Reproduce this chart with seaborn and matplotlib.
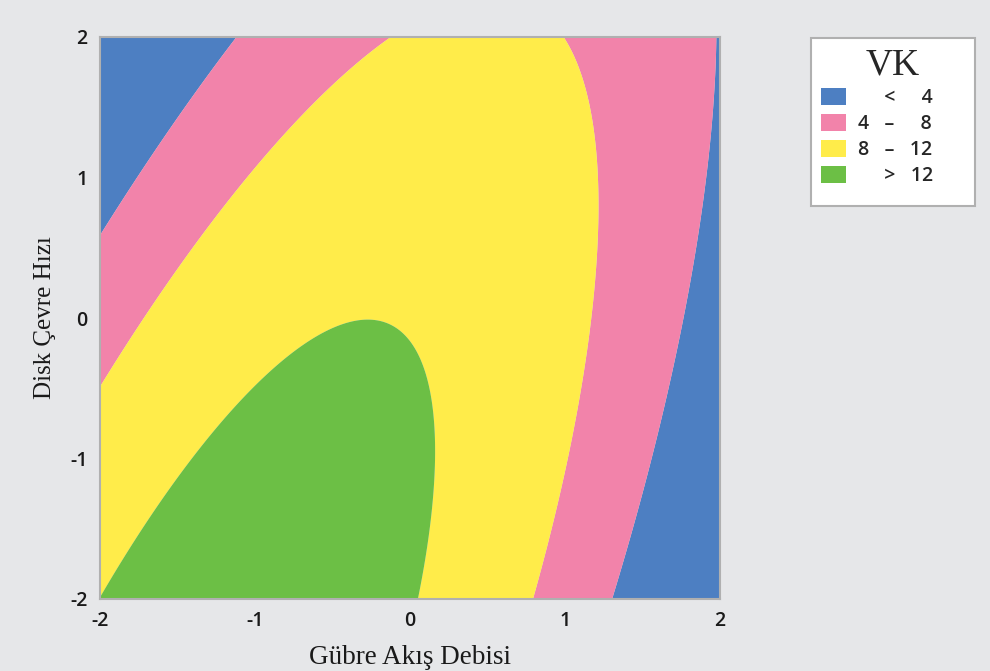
import numpy as np
import pandas as pd
import matplotlib
matplotlib.use("Agg")
import matplotlib.pyplot as plt
import seaborn as sns
from matplotlib.patches import Patch, Rectangle

# ---- data (contour boundary points) ----
levels = [4, 8, 12]
FS = "\u2007"  # figure space (digit width) for column alignment
GAP = "   "
TAIL = FS * 3
legend_labels = [f"{FS}{GAP}<{GAP}{FS}4{TAIL}", f"4{GAP}–{GAP}{FS}8{TAIL}",
                 f"8{GAP}–{GAP}12{TAIL}", f"{FS}{GAP}>{GAP}12{TAIL}"]
band_colors = ["#4D7FC2", "#F283AA", "#FFEC4A", "#6CBF45"]
ticks = [-2, -1, 0, 1, 2]

b12_x = [-1.994, -1.819, -1.516, -1.142, -0.852, -0.568, -0.368, -0.206, -0.052,
         0.065, 0.116, 0.142, 0.142, 0.110, 0.045]
b12_y = [-1.993, -1.636, -1.137, -0.660, -0.317, -0.111, -0.011, -0.011, -0.111,
         -0.303, -0.467, -0.824, -1.137, -1.636, -1.993]

b8_x = [-1.994, -1.710, -1.452, -1.148, -0.858, -0.568, -0.290, -0.110,
        0.987, 1.142, 1.206, 1.213, 1.161, 1.097, 1.013, 0.916, 0.794]
b8_y = [-0.481, 0.004, 0.431, 0.859, 1.244, 1.601, 1.872, 2.000,
        2.000, 1.608, 1.137, 0.610, -0.018, -0.567, -1.087, -1.565, -1.993]

b4_x = [-1.994, -1.794, -1.497, -1.116,
        1.974, 1.955, 1.871, 1.774, 1.697, 1.594, 1.439, 1.303]
b4_y = [0.588, 0.959, 1.430, 2.000,
        2.000, 1.451, 0.660, 0.011, -0.303, -0.831, -1.487, -1.993]

pts = pd.DataFrame({
    "x": b12_x + b8_x + b4_x,
    "y": b12_y + b8_y + b4_y,
    "vk": [12] * len(b12_x) + [8] * len(b8_x) + [4] * len(b4_x),
})

def terms(x, y, deg=3):
    x = np.asarray(x, float); y = np.asarray(y, float)
    return np.column_stack([x**i * y**j for i in range(deg + 1) for j in range(deg + 1 - i)])

coef, *_ = np.linalg.lstsq(terms(pts.x, pts.y), pts.vk.values, rcond=None)
g = np.linspace(-2, 2, 401)
X, Y = np.meshgrid(g, g)
Z = (terms(X.ravel(), Y.ravel()) @ coef).reshape(X.shape)

# ---- plot ----
sns.set_theme(style="white")
bg = "#E6E7E9"
sans = ["Open Sans", "DejaVu Sans"]
serif = ["Liberation Serif", "DejaVu Serif"]
plt.rcParams["font.family"] = sans
plt.rcParams["axes.unicode_minus"] = False

fig = plt.figure(figsize=(9.9, 6.71), dpi=100, facecolor=bg)
ax = fig.add_axes([100 / 990, 1 - 599 / 671, 620 / 990, 562 / 671])
ax.set_facecolor(bg)
ax.contourf(X, Y, Z, levels=[-1e9] + levels + [1e9], colors=band_colors, antialiased=True)
ax.set_xlim(-2, 2)
ax.set_ylim(-2, 2)
ax.set_xticks(ticks)
ax.set_yticks(ticks)
ax.tick_params(axis="both", direction="out", length=6, width=1.2, color="#A8A8A8",
               labelsize=14, labelcolor="#1A1A1A", pad=3)
for lab in ax.get_xticklabels() + ax.get_yticklabels():
    lab.set_fontweight("semibold")
for s in ax.spines.values():
    s.set_color("#B0B0B0")
    s.set_linewidth(1.5)
ax.set_xlabel("Gübre Akış Debisi", family=serif, fontsize=19.5, color="#1A1A1A", labelpad=10)
ax.set_ylabel("Disk Çevre Hızı", family=serif, fontsize=18, color="#1A1A1A", labelpad=10)

# legend box (frame drawn separately to match the reference's size)
fig.patches.append(Rectangle((811 / 990, 1 - 206 / 671), 164 / 990, 168 / 671,
                             transform=fig.transFigure, facecolor="white",
                             edgecolor="#B0B0B0", linewidth=1.5, zorder=0))
handles = [Patch(facecolor=c, edgecolor="none") for c in band_colors]
leg = fig.legend(handles, legend_labels, loc="upper left",
                 bbox_to_anchor=(811 / 990, 1 - 38 / 671), borderaxespad=0, title="VK",
                 frameon=False,
                 prop={"family": sans, "size": 14, "weight": "semibold"},
                 handlelength=1.3, handleheight=0.95,
                 labelspacing=0.3, borderpad=0.5, handletextpad=0.6)
leg.get_title().set_family(serif)
leg.get_title().set_fontsize(27)

fig.savefig("out.png", dpi=100, facecolor=bg)
